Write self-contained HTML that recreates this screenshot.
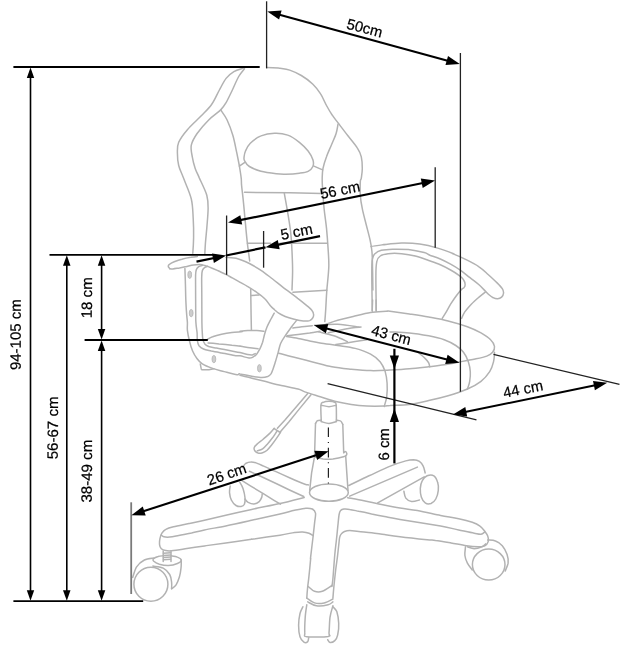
<!DOCTYPE html>
<html><head><meta charset="utf-8"><title>Chair dimensions</title>
<style>
html,body{margin:0;padding:0;background:#fff}
svg{display:block;will-change:transform}
text{font-family:"Liberation Sans",sans-serif;fill:#000;stroke:#000;stroke-width:.22;text-anchor:middle;text-rendering:geometricPrecision}
</style></head><body>
<svg width="620" height="662" viewBox="0 0 620 662">
<rect width="620" height="662" fill="#fff"/>
<g fill="none" stroke="#b2b2b2" stroke-width="1.5" stroke-linecap="round" stroke-linejoin="round">
<path d="M243.5 68.1C241.9 68.7 236.8 69.9 233.9 71.6C231 73.3 228.5 75.3 226.1 78.4C223.7 81.5 221.8 85.6 219.4 90C216.9 94.4 214.7 100.2 211.6 104.5C208.5 108.9 205 111.9 201 116.1C196.9 120.3 191.1 125.3 187.4 129.7C183.7 134 180.4 138.4 178.7 142.3C177 146.1 177.4 149 177.4 152.9C177.4 156.8 177.7 161.3 178.7 165.5C179.7 169.7 181.5 172.5 183.5 178.1C185.6 183.7 189.7 192.3 191.3 199C192.9 205.8 192.8 211.9 193.2 218.4C193.6 224.8 193.7 231.9 193.6 237.7C193.5 243.5 193 250.6 192.8 253.2"/>
<path d="M244.5 68.7C243.5 70 240.8 72.7 238.7 76.5C236.6 80.2 234 86.6 231.9 91C229.8 95.3 228 99.4 226.1 102.6C224.3 105.7 223.6 107 220.7 109.9C217.8 112.8 212.6 116.1 208.7 120C204.8 123.9 200 129.4 197.1 133.5C194.2 137.7 192.1 141.3 191.3 145.2C190.5 149 191.6 152.9 192.3 156.8C192.9 160.6 194 164.8 195.2 168.4C196.4 171.9 197.5 173.6 199.4 178.1C201.4 182.5 205.3 190.1 206.8 195.2C208.2 200.3 208.1 203.2 208.1 208.7C208.1 214.2 207.2 222.3 206.8 228.1C206.3 233.9 205.7 239.2 205.4 243.5C205.1 247.9 204.9 252.4 204.8 254.2"/>
<path d="M220.7 109.9C221.8 111.6 225.1 115.7 227.1 120C229.1 124.3 231.3 130 232.9 135.5C234.5 141 235.7 147.9 236.8 152.9C237.8 157.9 238.5 161.3 239.3 165.5C240 169.7 240.8 174.7 241.2 178.1C241.6 181.4 241.2 181.3 241.6 185.5C242 189.6 242.9 196.5 243.5 202.9C244.2 209.4 244.8 217.4 245.5 224.2C246.1 231 246.7 237.4 247.4 243.5C248.1 249.7 249.4 258.1 249.7 261"/>
<path d="M244.5 160.6C243.6 159 244 158.4 244.1 156.8C244.3 155.2 244.5 153.2 245.5 151C246.5 148.7 247.7 145.7 250.3 143.2C252.9 140.7 256.9 137.5 261 135.9C265 134.2 270.1 133.3 274.5 133.2C279 133 283.6 133.6 287.7 135.1C291.9 136.6 296 139.6 299.4 142.3C302.7 144.9 305.8 148.1 308.1 151C310.3 153.9 312.1 157.1 312.9 159.7C313.7 162.3 313.7 164.5 312.9 166.5C312.1 168.4 310.3 170.2 308.1 171.3C305.8 172.4 303.1 172.7 299.4 173.2C295.6 173.7 289.6 174.1 285.8 174.2C282 174.3 280.6 174.3 276.5 173.8C272.3 173.3 265.5 172.5 261 171.3C256.5 170.1 252.1 168.2 249.4 166.5C246.6 164.7 245.4 162.3 244.5 160.6Z"/>
<path d="M239.3 166.1L244.5 162.6"/>
<path d="M313.9 166.1L322.6 169.9"/>
<path d="M266.8 67.4C268.7 67.5 276.2 68 278.4 68.1C280.6 68.3 278.1 68 280 68.3C281.9 68.6 286.1 68.9 289.7 70.1C293.2 71.3 297.4 73.1 301.3 75.5C305.2 77.8 309.7 81.1 312.9 84.2C316.1 87.3 318.4 90.3 320.6 93.9C322.9 97.4 324.5 101.9 326.5 105.5C328.4 109 330.3 112.3 332.3 115.2C334.2 118.1 335.5 119.5 338.1 122.9C340.6 126.3 344.5 131.3 347.7 135.5C351 139.7 355.2 144.5 357.4 148.1C359.7 151.6 360.5 153.4 361.3 156.8C362.1 160.2 362.3 164.8 362.3 168.4C362.3 171.9 361.6 175.9 361.3 178.1C361 180.3 360.5 178.8 360.3 181.6C360.2 184.5 360 190.6 360.3 195.2C360.6 199.7 361.3 203.9 362.3 208.7C363.2 213.5 364.8 219 366.1 224.2C367.4 229.4 369 235.2 370 239.7C371 244.2 371.5 246.8 371.9 251.3C372.4 255.8 372.4 260.3 372.5 266.8C372.7 273.2 372.8 286.1 372.9 290"/>
<path d="M338.1 123.9C337.7 125.5 337.3 130 336.1 133.5C335 137.1 332.9 141.3 331.3 145.2C329.7 149 327.8 152.9 326.5 156.8C325.1 160.6 323.7 164.8 323 168.4C322.3 171.9 322.3 174.6 322.2 178.1C322.1 181.6 322.3 184.2 322.6 189.4C322.9 194.5 323.5 202.3 324.1 208.7C324.8 215.2 325.8 221.6 326.5 228.1C327.1 234.5 327.6 241 328 247.4C328.4 253.9 329 259.6 328.8 266.8C328.6 274 327.3 283.8 326.8 290.6C326.3 297.5 326.1 302.9 325.8 308.1C325.5 313.2 325 319.4 324.8 321.6"/>
<path d="M244.5 192.3L290 192.8L321.6 193.6"/>
<path d="M247.4 243.2L270.6 243.2"/>
<path d="M280 243.2L327.4 243.2"/>
<path d="M284.3 193.2C284.8 196.5 286.7 206.1 287.7 212.6C288.8 219 289.9 225.5 290.6 231.9C291.4 238.4 291.7 244.8 292 251.3C292.3 257.7 292.6 264.2 292.6 270.6C292.6 277.1 292.1 286.8 292 290"/>
<path d="M169.7 268.6C169.5 268.3 168.6 267.4 168.4 266.9C168.2 266.4 168.2 266.1 168.4 265.6C168.6 265.2 168.7 264.7 169.7 264.1C170.6 263.5 172.2 262.6 174.2 261.8C176.2 261 179.1 259.9 181.9 259.2C184.7 258.4 188.4 257.7 191 257.3C193.5 256.8 196.3 256.5 197.4 256.4"/>
<path d="M226.1 257.4C228.1 257.6 233.9 257.7 237.7 258.7C241.6 259.7 245.5 261.6 249.4 263.5C253.2 265.5 257.1 267.7 261 270.3C264.8 272.9 268.4 275.8 272.6 279C276.8 282.3 281.9 286.5 286.1 289.7C290.3 292.9 294.2 295.6 297.7 298.4C301.3 301.1 305.1 304.2 307.4 306.1C309.7 308.1 310.6 308.7 311.6 310C312.6 311.3 313.3 312.6 313.5 313.9C313.8 315.2 313.5 316.6 312.9 317.7C312.3 318.9 311.3 320 309.7 320.6C308.1 321.1 305.8 321.2 303.2 321C300.6 320.8 297.2 320 294.2 319.3C291.2 318.5 287.7 317.5 285.2 316.5C282.6 315.4 280.4 314.3 278.7 313.2C277 312.2 276.2 311.2 274.8 310C273.5 308.8 272.3 308 270.6 306.1C269 304.3 267.1 301 264.8 298.8C262.6 296.5 260 294.6 257.1 292.6C254.2 290.5 250.3 288.1 247.4 286.4C244.5 284.6 242.2 283.5 239.7 282.1C237.2 280.7 234.6 279.2 232.3 277.9C229.9 276.6 228.2 275.6 225.8 274.4C223.4 273.2 220.4 271.9 218.1 270.8C215.7 269.7 213.8 268.8 211.6 268C209.5 267.1 207.1 266.2 205.2 265.6C203.2 265.1 201.9 264.7 200 264.6C198.1 264.5 195.9 264.7 193.5 265C191.2 265.3 188.2 266.2 185.8 266.7C183.4 267.2 181.5 267.6 179.4 268C177.2 268.3 174.5 268.8 172.9 268.9C171.3 269 170.2 268.7 169.7 268.6"/>
<path d="M184.9 268.5C185 271 185.3 278.6 185.4 283.7C185.6 288.8 185.6 294.5 185.8 299.2C186 303.9 186.2 308.2 186.5 312.1C186.7 316 187.2 319.4 187.4 322.4C187.5 325.5 187.1 327.3 187.4 330.3C187.8 333.4 188.5 337.2 189.4 340.6C190.2 344.1 191.3 348 192.6 351C193.9 354 195.5 356.6 197.1 358.7C198.7 360.9 199.7 362.3 202.3 363.9C204.8 365.5 208.9 367.1 212.6 368.4C216.2 369.7 220.1 370.5 224.2 371.6C228.3 372.7 234.5 374.5 237.1 374.8C239.7 375.2 237.4 373.6 240 373.9C242.6 374.1 249.2 375.9 252.9 376.5C256.6 377 259.5 377.4 261.9 377.4C264.4 377.4 266.2 377 267.7 376.5C269.2 375.9 270.1 375.1 271 373.9C271.8 372.7 272.2 371.4 272.9 369.4C273.7 367.3 274.6 364.4 275.5 361.6C276.3 358.8 277.2 355.6 278.1 352.6C278.9 349.6 279.5 346.3 280.6 343.5C281.8 340.8 283.3 338.6 285.2 335.8C287 333 289.7 329.4 291.6 326.8C293.5 324.2 295.9 321.2 296.8 320.1"/>
<path d="M202.6 265.4C201.9 265.6 199.7 266 198.7 266.7C197.7 267.4 196.9 268.2 196.4 269.5C195.9 270.8 195.7 271.2 195.6 274.7C195.5 278.1 195.6 284.4 195.6 290.2C195.6 296 195.7 304.1 195.7 309.5C195.8 314.9 195.6 318.5 195.9 322.4C196.1 326.3 196.8 329.9 197.1 332.9C197.3 335.9 197 338.5 197.4 340.6C197.7 342.8 198 344.4 199 345.8C200.1 347.2 201.5 348.2 203.5 349C205.6 349.9 208.3 350.3 211.3 351C214.3 351.6 217.7 352.2 221.6 352.9C225.5 353.7 231.5 355 234.5 355.5C237.6 356 237.6 355.4 240 355.8C242.4 356.2 246.9 357.8 249 358C251.2 358.2 251.6 357.8 252.9 357.1C254.2 356.4 255.6 355.3 256.8 353.9C258 352.5 259 350.6 260 348.7C261 346.8 261.8 344.6 262.6 342.3C263.3 339.9 263.8 337.1 264.5 334.5C265.3 331.9 266 329.4 267.1 326.8C268.2 324.2 269.8 321.3 271 319C272.2 316.8 273.7 314.2 274.2 313.2"/>
<path d="M207.7 266.3C207.2 266.5 205.4 266.8 204.5 267.6C203.6 268.3 202.8 269.2 202.3 270.8C201.8 272.4 201.8 273 201.7 277.3C201.6 281.6 201.8 289.1 201.8 296.6C201.8 304.1 201.9 316.4 201.9 322.4C202 328.5 202.1 330.1 202.3 332.9C202.4 335.7 202.5 337.5 202.9 339.4C203.3 341.2 203.9 342.7 204.8 343.9C205.8 345.1 206.8 345.7 208.7 346.5C210.6 347.2 213.2 347.5 216.5 348.1C219.7 348.8 224.1 349.6 228.1 350.3C232 351.1 236.7 351.9 240 352.6C243.3 353.3 245.7 354.1 247.7 354.5C249.8 354.9 251 355.1 252.3 354.9C253.5 354.8 254.7 353.8 255.2 353.6"/>
<path d="M200.3 363.9C200.4 364.2 201.2 369.4 201.6 369.7C202 370 208.1 369.7 208.7 369.7C209.3 369.6 213.6 368.8 213.9 368.8"/>
<path d="M207.4 339.4C208.3 338.9 210.2 337.6 212.6 336.8C214.9 335.9 218.4 334.9 221.6 334.2C224.8 333.5 228.5 332.9 231.9 332.5C235.4 332.1 240.9 331.8 242.3 331.6C243.6 331.4 239.1 331.5 240 331.3C240.9 331.1 244.9 330.8 247.7 330.6C250.5 330.5 254.1 330.3 256.8 330.4C259.5 330.5 262.7 331.1 263.9 331.3"/>
<path d="M208.1 343C209.9 343.1 215.1 343.5 219 343.9C223 344.2 228.1 344.7 231.9 345.2C235.8 345.6 240.9 346.3 242.3 346.5C243.6 346.6 239.1 346 240 346.1C240.9 346.3 244.7 347 247.7 347.4C250.8 347.8 256.3 348.5 258.1 348.7"/>
<path d="M250.7 288.7L251.1 315.2L251.4 330"/>
<path d="M251.3 295.5L259 294.9"/>
<path d="M292.9 292.2L326.8 290.3"/>
<path d="M240 375.2C242.2 375.7 248.6 377.3 252.9 378.4C257.2 379.5 261.1 380.4 265.8 381.6C270.5 382.8 275.9 384.3 281.3 385.5C286.7 386.7 294.1 387.9 298.1 389C302 390 301.1 390.6 304.8 391.9C308.5 393.2 315.2 395.2 320.3 396.8C325.5 398.4 330.6 400.3 335.8 401.6C341 402.9 346.1 403.8 351.3 404.5C356.5 405.3 361.3 405.8 366.8 406.1C372.3 406.3 380.3 406.2 384.2 406.1C388.1 406 385.8 405.7 390 405.5C394.2 405.2 402.9 405.3 409.4 404.5C415.8 403.7 422.3 402.1 428.7 400.6C435.2 399.2 441.6 397.7 448.1 395.8C454.5 393.9 461.9 391.5 467.4 389C472.9 386.6 477.3 384.2 481 381.3C484.7 378.4 487.6 374.8 489.7 371.6C491.8 368.4 492.7 365.2 493.5 361.9C494.4 358.7 494.4 353.9 494.5 352.3"/>
<path d="M326.1 324.2C328.1 323.5 333.2 321.6 337.7 320.3C342.3 319 347.7 317.7 353.2 316.5C358.7 315.2 365.2 313.5 370.6 312.6C376.1 311.7 382.9 311.5 386.1 311.2C389.4 311 386.1 310.8 390 311.2C393.9 311.7 402.9 313 409.4 313.9C415.8 314.9 422.3 315.9 428.7 317C435.2 318.2 441.6 319.3 448.1 320.9C454.5 322.5 461.9 324.7 467.4 326.7C472.9 328.7 477.1 330.7 481 332.9C484.8 335.1 488.4 337.4 490.6 339.7C492.9 341.9 494.2 344.4 494.5 346.5C494.8 348.5 493.9 350.6 492.6 352.3C491.3 353.9 489.7 355 486.8 356.1C483.9 357.3 479.7 358.1 475.2 359C470.6 360 464.8 361 459.7 361.9C454.5 362.9 449.4 364 444.2 364.8C439 365.6 434.5 366.1 428.7 366.8C422.9 367.4 415.8 368.2 409.4 368.7C402.9 369.3 396.5 369.7 390 370.1C383.5 370.4 377.1 370.8 370.6 370.6C364.2 370.5 357.7 369.9 351.3 369.3C344.8 368.6 338.4 368 331.9 366.8C325.5 365.5 319 363.5 312.6 361.9C306.1 360.3 298.9 358.5 293.2 357.1C287.6 355.6 281.1 353.9 278.7 353.2"/>
<path d="M372.6 300L372.2 310.6"/>
<path d="M376.1 300L376.1 310.6"/>
<path d="M287.1 335.8C288.9 335.6 294.3 335 298.1 334.5C301.8 334 306 333.5 309.7 333C313.3 332.4 318.3 331.6 320 331.3"/>
<path d="M286.5 336.5C288.4 336.8 294.2 337.6 298.1 338.4C301.9 339.1 306 340.2 309.7 341C313.3 341.7 315.3 342.2 320 342.9C324.7 343.7 331.9 344.6 337.7 345.5C343.6 346.4 349.7 346.9 355.2 348.4C360.6 349.8 366.5 351.9 370.6 354.2C374.8 356.5 377.9 359 380.3 361.9C382.7 364.8 384 368.1 385.2 371.6C386.3 375.2 386.8 379 387.1 383.2C387.4 387.4 387.2 392.9 386.7 396.8C386.2 400.6 384.6 404.8 384.2 406.5"/>
<path d="M292.9 328.1C294.4 327.8 298.7 327.2 301.9 326.8C305.2 326.4 310.5 325.9 312.3 325.7"/>
<path d="M314.5 325.2C318.4 325 330.3 323.9 337.7 324.2C345.2 324.5 355.5 326.6 359 327.1"/>
<path d="M318.4 331.9C321 332.6 329 334.2 333.9 335.8C338.7 337.4 345.2 340.6 347.4 341.6"/>
<path d="M335.8 344.5C339 344 350 342.4 355.2 341.6C360.3 340.8 364.8 340 366.8 339.7"/>
<path d="M328.1 332.9C331.9 332.1 345.8 329 351.3 328.1C356.8 327.1 359.4 327.3 361 327.1"/>
<path d="M390 331.9C393.2 332.1 402.9 332.3 409.4 332.9C415.8 333.5 422.9 334.7 428.7 335.8C434.5 336.9 439.7 338.1 444.2 339.7C448.7 341.3 452.6 343.4 455.8 345.5C459 347.6 461.5 349.5 463.5 352.3C465.6 355 467.3 358.7 468.4 361.9C469.5 365.2 470.1 368.4 470.3 371.6C470.5 374.8 470.2 378.4 469.7 381.3C469.3 384.2 467.8 387.7 467.4 389"/>
<path d="M419 353.2C420 354 423.2 356.5 424.8 358.1C426.5 359.7 427.9 361.5 428.7 362.9C429.5 364.4 429.5 366.1 429.7 366.8"/>
<path d="M371 246.5C373.2 246.1 382.4 244.8 384.5 244.5C386.6 244.2 380.7 244.9 383.5 244.7C386.4 244.4 395.6 243.2 401.6 243.1C407.6 243 413.7 243.2 419.7 244C425.7 244.8 432.1 246.4 437.7 248.1C443.4 249.7 451 252.7 453.5 253.7C456.1 254.7 451.1 252.9 453.2 253.9C455.3 254.9 461.8 257.5 466.1 259.7C470.4 261.8 475.4 264.3 479 266.8C482.7 269.2 485.1 271.8 488.1 274.5C491.1 277.2 494.7 280.5 497.1 282.9C499.5 285.3 501.2 287 502.3 288.7C503.3 290.4 503.7 291.8 503.5 293.2C503.4 294.6 502.6 296.2 501.6 297.1C500.6 298 499.1 298.7 497.7 298.8C496.3 298.9 494.7 298.5 493.2 297.7C491.7 297 490 295.6 488.7 294.5C487.4 293.4 487.1 292.9 485.5 291.3C483.9 289.7 481.6 287.1 479 284.8C476.5 282.6 473 280.1 470 277.7C467 275.4 464.2 272.9 461 270.6C457.7 268.4 454.1 266.1 450.6 264.2C447.2 262.3 443.8 260.5 440.3 259C436.9 257.5 432.7 256.2 430 255.2C427.3 254.1 427.8 253.5 424.2 252.6C420.6 251.7 413.7 250.2 408.4 249.6C403.1 249.1 397.1 249.1 392.6 249.2C388.1 249.3 384.2 249.6 381.3 250.3C378.4 251.1 376.5 252.2 375 253.7C373.5 255.2 372.8 255.8 372.3 259.4C371.7 262.9 371.8 266.5 371.8 275.2C371.8 283.8 372.2 305.3 372.3 311.3"/>
<path d="M376.3 311.3C376.2 305.3 375.8 283.4 375.9 275.2C375.9 266.9 376.1 264.8 376.8 261.6C377.5 258.4 378.3 257.3 380.2 256C382 254.7 384.5 254.1 388.1 253.7C391.6 253.3 397.1 253.3 401.6 253.7C406.1 254.1 410.6 254.8 415.2 256C419.7 257.1 424.5 259 428.7 260.5C432.9 262 436.7 263.3 440.3 264.8C444 266.4 447.4 268.2 450.6 270C453.9 271.8 457.5 274.2 459.7 275.8C461.8 277.4 462.6 278.3 463.5 279.7C464.5 281.1 465 282.9 465.1 284.2C465.2 285.5 464.9 286.5 464.2 287.4C463.5 288.4 462.4 288.5 461 290C459.6 291.5 457.5 294.1 455.8 296.5C454.1 298.8 452.4 301.4 450.6 304.2C448.9 307 446.9 310.9 445.5 313.2C444.1 315.6 442.8 317.5 442.3 318.4"/>
<path d="M485.5 291.9C484.4 292.8 481.4 295.1 479 297.1C476.7 299.1 473.7 301.7 471.3 304.2C468.9 306.7 466.5 309.6 464.8 311.9C463.2 314.3 462.2 317.3 461.6 318.4"/>
<path d="M307.7 393.4L296.8 406.3L285.2 419.8L277.4 428.2"/>
<path d="M311 394.7L299.4 408.9L289 421.8L280.6 431.5"/>
<path d="M274.2 428.2C273.4 429.1 271.5 431.6 269.7 433.4C267.8 435.2 265.4 437.4 263.2 439.2C261.1 441 258.3 443 256.8 444.4C255.3 445.8 254.5 446.5 254.2 447.6C253.9 448.7 254.2 449.9 254.8 450.8C255.5 451.7 256.8 452.8 258.1 453.1C259.4 453.5 261.1 453.2 262.6 452.7C264.1 452.2 265.6 451.5 267.1 450.2C268.6 448.9 270 447 271.6 445C273.2 443 275.3 440.1 276.8 437.9C278.3 435.8 280 433.1 280.6 432.1"/>
<path d="M274.2 428.6L280.3 432.5"/>
<path d="M257.4 450.8C258.3 450.5 260.9 450.1 262.6 448.9C264.3 447.7 266 445.6 267.7 443.7C269.5 441.8 271.4 439.3 272.9 437.3C274.4 435.2 276.1 432.4 276.8 431.5"/>
<path d="M321.3 421.6C321.2 418.9 320.6 408.4 320.9 405.2C321.2 401.9 321.9 402.9 323.2 402.3C324.6 401.6 327.1 401.3 329 401.3C331 401.3 333.6 401.6 334.8 402.3C336 402.9 335.9 401.9 336.2 405.2C336.5 408.4 336.4 418.9 336.4 421.6"/>
<path d="M321.3 405.2C322.6 405.4 326.5 406.7 329 406.7C331.5 406.7 335 405.4 336.2 405.2"/>
<path d="M321.3 421.6C322.6 421.9 326.5 423.5 329 423.5C331.5 423.5 335.2 421.9 336.4 421.6"/>
<path d="M321.3 420.1C320.6 420.2 318.4 420.1 317.4 420.6C316.5 421.2 315.8 423.1 315.5 423.5"/>
<path d="M315.5 423.5L314.5 457"/>
<path d="M336.4 420.1C337.1 420.2 339.6 420.3 340.6 421C341.7 421.8 342.4 423.9 342.8 424.5"/>
<path d="M342.8 424.5L343.7 452.6"/>
<path d="M314.7 457C316.1 457.4 320.2 458.6 323.2 459C326.3 459.3 329.5 459.3 332.9 459C336.3 458.6 341.3 457.5 343.5 456.8C345.8 456.2 345.9 455.8 346.5 455.1C347 454.4 346.9 453.4 346.6 452.8C346.4 452.2 345.6 451.6 345.1 451.6C344.6 451.6 344 452.6 343.7 452.8"/>
<path d="M314.3 457.8L311.6 472.9L309.7 490.3"/>
<path d="M345.7 456.1L346.8 472.9L348 490.3"/>
<path d="M309.5 492.6a19.4 8.7 0 1 0 38.8 0a19.4 8.7 0 1 0 -38.8 0"/>
<path d="M251.6 539.3C247.3 539.9 233.7 541.8 225.8 542.9C218 544 211.3 544.9 204.5 545.9C197.7 546.8 190.3 547.9 185.2 548.7C180 549.5 176.8 550.3 173.5 550.6C170.3 551 167.8 551 165.8 550.6C163.8 550.3 162.3 549.7 161.3 548.7C160.3 547.7 159.8 546.6 159.6 544.8C159.4 543.1 159.6 540.3 160 538.4C160.4 536.5 161 534.7 161.9 533.2C162.9 531.7 163.9 530.4 165.8 529.4C167.7 528.3 169.7 527.7 173.5 526.8C177.4 525.8 183.9 524.6 189 523.5C194.2 522.5 198.4 521.7 204.5 520.3C210.6 518.9 218 517 225.8 515.2C233.7 513.3 242.6 511.3 251.6 509.4C260.6 507.4 271.2 505.5 280 503.5C288.8 501.6 300.2 498.4 304.2 497.4"/>
<path d="M251.6 539.3C256.3 538.6 272.8 536.3 280 535.2C287.2 534 290.8 533 294.5 532.4C298.3 531.9 300.2 531.8 302.6 531.9C305 532.1 307.3 532.6 309 533.2C310.8 533.8 312.4 535.2 313.1 535.6"/>
<path d="M161.3 535.2C161.7 535.4 162.5 536.5 163.9 536.8C165.3 537.2 167.2 537.3 169.7 537.1C172.2 536.9 175.1 536.2 178.7 535.5C182.4 534.9 187.3 533.9 191.6 533C195.9 532 198.8 531.2 204.5 530C210.2 528.8 218 527.5 225.8 525.9C233.7 524.3 242.6 522.3 251.6 520.3C260.6 518.3 272.8 515.5 280 513.9C287.2 512.2 290.2 511.3 294.5 510.3C298.8 509.4 302.8 508.4 305.8 508.2C308.8 508 310.6 508.2 312.3 509C313.9 509.8 315.1 510.9 315.5 513.1C315.9 515.2 315.1 518 314.7 521.9C314.3 525.8 313.7 530.5 313.1 536.5C312.4 542.4 311 553.6 310.6 557.4C310.2 561.2 311 555.8 310.6 559.4C310.3 562.9 309.2 574.2 308.7 578.7C308.2 583.2 308.1 583.2 307.7 586.5C307.4 589.7 306.9 596.1 306.8 598.1"/>
<path d="M163.2 550.9L163.2 561.6"/>
<path d="M171 550.9L171 561.6"/>
<path d="M163.5 553.2L170.7 552.7"/>
<path d="M163.5 555.4L170.7 554.9"/>
<path d="M163.5 557.6L170.7 557.1"/>
<path d="M163.5 559.8L170.7 559.3"/>
<path d="M163.2 555.8C162.4 555.9 159.7 556 158.1 556.5C156.5 556.9 154.3 558 153.5 558.8C152.8 559.5 152.6 560.1 153.5 561C154.5 561.9 156.9 563.4 159.4 564.2C161.8 564.9 165.4 565.6 168.4 565.5C171.4 565.4 175.3 564.4 177.4 563.5C179.6 562.7 181.3 561.4 181.3 560.3C181.3 559.2 179.1 557.8 177.4 557.1C175.7 556.3 172 556 171 555.8"/>
<path d="M181.3 560.3C181.2 561.6 181.4 565.3 181 568.1C180.7 570.9 180.2 574.3 179.4 577.1C178.5 579.9 177.4 582.9 176.1 584.8C174.8 586.8 172.4 588.1 171.6 588.7"/>
<path d="M154 558.1C152.4 558.4 147.3 558.5 144.4 560C141.5 561.5 138.5 563.9 136.6 566.8C134.7 569.7 133.4 575.6 132.7 577.4"/>
<path d="M152.9 566.1C154.6 566.5 160.4 566.7 163.2 568.1C166 569.5 168.3 572.2 169.7 574.5C171.1 576.9 171.3 579.9 171.6 582.3C171.9 584.6 171.6 587.6 171.6 588.7"/>
<path d="M133.9 584.2a17 17 0 1 0 34 0a17 17 0 1 0 -34 0"/>
<path d="M242.4 467.4C242.8 467 244.7 464.2 245.6 463.5C246.6 462.9 249.6 461.9 250.8 461.9C252 461.8 254.5 462.4 256 462.9C257.5 463.4 261.3 465.1 263.7 466.1C266.1 467.2 273.6 470.6 276.6 471.9C279.6 473.3 286.2 476.3 289.5 477.7C292.8 479.2 302.8 483.4 305 484.2C307.2 485 308.1 484.8 308.5 484.9"/>
<path d="M249.5 471.3L261.1 476.5L276.6 483.8L289.5 490L303.7 496.5"/>
<path d="M240.5 479.7L250.8 486.1L263.7 493.9L274 500.3L280.5 504.2"/>
<path d="M230.2 486.1C230.1 487.2 229.3 490.2 229.5 492.6C229.7 494.9 230.4 498.2 231.5 500.3C232.5 502.5 234.4 504.5 236 505.5C237.6 506.5 239.7 506.7 241.1 506.5C242.5 506.3 243.7 505.7 244.4 504.2C245 502.7 245.2 500.3 245 497.7C244.8 495.2 243.9 491.3 243.1 488.7C242.2 486.1 240.4 483.3 239.8 482.3"/>
<path d="M245 499C245.5 499.6 246.7 501.4 248.2 502.3C249.7 503.1 252.2 504 254 503.9C255.9 503.8 257.9 502.8 259.2 501.6C260.5 500.5 261.3 498.4 261.8 497.1C262.3 495.8 262.1 494.4 262.2 493.9"/>
<path d="M348.7 485.5C352.1 483.9 362.1 479 369 475.8C376 472.6 384.2 468.6 390.3 466.1C396.5 463.6 401.9 462 405.8 460.9C409.7 459.8 411.3 459.7 413.5 459.7C415.8 459.8 417.7 460.2 419.4 461.3C421 462.4 422.3 464.2 423.2 466.1C424.2 468.1 424.8 471.8 425.2 472.9"/>
<path d="M349.7 496.1L417.4 467.1"/>
<path d="M377.7 502.9L424.2 476.8"/>
<path d="M420.3 488.4C420.5 485.6 421.1 482.7 422.3 480.6C423.4 478.5 425.2 476.6 427.1 475.8C429 475 432.1 474.7 433.9 475.8C435.6 476.9 437 480.2 437.7 482.6C438.5 485 438.6 487.6 438.3 490.3C438 493.1 437 496.8 435.8 499C434.6 501.2 432.7 502.8 431 503.5C429.2 504.1 426.8 504 425.2 502.9C423.5 501.8 422.1 499.5 421.3 497.1C420.5 494.7 420.2 491.1 420.3 488.4Z"/>
<path d="M403.9 491.3C404.2 492.4 404.5 496.4 405.8 498.1C407.1 499.8 409.4 501.2 411.6 501.5C413.9 501.9 418.1 500.3 419.4 500"/>
<path d="M347.7 497.7C349.6 498.1 353.9 498.7 358.7 499.7C363.5 500.6 369.9 502.2 376.8 503.5C383.7 504.9 393.2 506.9 400 508.1C406.8 509.2 410.6 509.4 417.4 510.6C424.2 511.9 433.8 514.1 440.6 515.5C447.5 516.8 453.4 517.6 458.7 518.7C464 519.8 468.7 521 472.3 522.2C475.8 523.4 477.9 524.5 480 526.1C482.1 527.6 483.5 529.6 484.8 531.3C486.1 533 487.2 534.4 487.7 536.1C488.3 537.9 488.6 540.3 488.1 541.9C487.6 543.5 486.5 545 484.8 545.8C483.2 546.6 481.1 546.8 478.1 546.8C475 546.8 471 546.5 466.5 545.8C461.9 545.2 456.1 543.8 451 542.9C445.8 542 439.5 540.9 435.5 540.4C431.5 539.8 433 540.3 427.1 539.7C421.2 539.1 407.1 537.6 400 536.7C392.9 535.8 389.2 535.2 384.5 534.5C379.8 533.9 375.9 533.3 371.6 532.8C367.3 532.3 362.4 531.9 358.7 531.5C355.1 531.2 352 530.6 349.7 530.6C347.3 530.6 345.9 531 344.5 531.5C343.1 532.1 342.1 532.8 341.3 533.9C340.5 534.9 340 535.8 339.6 537.7C339.2 539.7 339.1 542.3 338.7 545.5C338.3 548.7 337.9 553.2 337.4 557.1C336.9 561 336.4 564.1 335.8 569C335.2 573.9 334.4 581.6 333.9 586.5C333.4 591.3 333.1 596.1 332.9 598.1"/>
<path d="M331.9 586.5C332.1 585.2 332.4 584 332.9 578.7C333.4 573.4 334.2 561.1 334.8 554.5C335.4 547.9 336 544.2 336.5 539C337.1 533.9 337.6 527.6 338.1 523.5C338.5 519.5 338.7 516.7 339.1 514.5C339.5 512.4 339.8 511.5 340.6 510.6C341.4 509.7 342.4 509.3 343.9 509.1C345.4 508.9 347.2 509 349.7 509.4C352.2 509.7 355.1 510.5 358.7 511.3C362.4 512 367.3 513 371.6 513.9C375.9 514.7 379.8 515.5 384.5 516.5C389.2 517.4 390.6 517.8 400 519.4C409.4 521 430.9 524.4 440.6 526.1C450.4 527.9 453.1 528.8 458.7 529.9C464.3 531.1 470.5 532.5 474.2 533.2C477.9 533.9 479.2 534.4 481 534.2C482.7 534 484.2 532.3 484.8 531.9"/>
<path d="M465.5 546.8C465.4 548.2 464.6 552.7 464.9 555.5C465.2 558.2 466.2 560.8 467.4 563.2C468.6 565.6 471.5 568.9 472.3 570"/>
<path d="M487.7 540C489 540.2 493.1 540 495.5 541C497.9 541.9 500.3 543.5 502.3 545.8C504.2 548.1 506.1 551.6 507.1 554.5C508.1 557.4 508.4 560.5 508.1 563.2C507.7 566 505.6 569.7 505.2 571"/>
<path d="M467.4 546.8C468.5 547.1 471.8 548.7 474.2 548.7C476.6 548.7 480 547.6 481.9 546.8C483.9 546 485.2 544.4 485.8 543.9"/>
<path d="M472.4 564.6a16.3 15.5 0 1 0 32.6 0a16.3 15.5 0 1 0 -32.6 0"/>
<path d="M308.3 586.5C309.4 587.3 312.2 590.5 314.5 591.3C316.8 592.1 319.4 592.3 322.3 591.3C325.2 590.3 330.3 586.5 331.9 585.5"/>
<path d="M306.8 598.1C308.1 598.9 311.6 602.1 314.5 602.9C317.4 603.7 321.1 603.5 324.2 602.9C327.3 602.3 331.5 599.7 332.9 599"/>
<path d="M307.7 601.9C309.2 602.6 313.1 605.3 316.5 605.8C319.8 606.3 325.3 605.5 328.1 604.8C330.8 604.2 332.1 602.4 332.9 601.9"/>
<path d="M306.8 604.8C306.5 606.9 305.5 612.7 305.2 617.4C304.9 622.1 304.6 629.7 304.8 632.9C305.1 636.1 302.9 636.2 306.8 636.8C310.6 637.4 324.4 637 328.1 636.4C331.8 635.7 328.7 636.1 329 632.9C329.4 629.7 329.4 621.9 330 617.4C330.6 612.9 332.4 607.7 332.9 605.8"/>
<path d="M302.9 606.8C302.4 607.9 300.7 610.5 300 613.5C299.3 616.6 298.6 621.3 298.6 625.2C298.6 629 299.1 633.9 300 636.8C300.9 639.6 302.6 641.4 303.9 642.2C305.2 643 306.9 642.4 307.7 641.6C308.5 640.9 308.5 638.4 308.7 637.7"/>
<path d="M332.9 606.8C333.5 607.6 335.8 608.9 336.8 611.6C337.7 614.4 338.5 619.4 338.7 623.2C338.9 627.1 338.4 631.9 337.7 634.8C337.1 637.7 336.1 639.4 334.8 640.6C333.5 641.9 331.2 642.7 330 642.6C328.8 642.4 328.1 640.2 327.7 639.7"/>
</g>
<path d="M131.2 502.3V594" stroke="#7a7a7a" stroke-width="1.8" fill="none"/>
<path d="M328.4 427.4V484" stroke="#222" stroke-width="1.2" stroke-dasharray="9.7 4.8 1 4.8" fill="none"/>
<ellipse cx="189.7" cy="274.7" rx="1.9" ry="3.7" fill="#cdcdcd" stroke="#b4b4b4" stroke-width="0.8" transform="rotate(0 189.7 274.7)"/>
<ellipse cx="191.2" cy="313.1" rx="1.9" ry="3.7" fill="#cdcdcd" stroke="#b4b4b4" stroke-width="0.8" transform="rotate(0 191.2 313.1)"/>
<ellipse cx="213.9" cy="359.1" rx="1.9" ry="3.7" fill="#cdcdcd" stroke="#b4b4b4" stroke-width="0.8" transform="rotate(0 213.9 359.1)"/>
<ellipse cx="259.4" cy="368.3" rx="1.9" ry="3.7" fill="#cdcdcd" stroke="#b4b4b4" stroke-width="0.8" transform="rotate(0 259.4 368.3)"/>
<g fill="none" stroke="#222" stroke-width="1.3">
<path d="M266.6 1.3L266.6 68.4"/>
<path d="M460.4 53L460.4 391.8"/>
<path d="M226.6 215.5L226.6 274.8"/>
<path d="M263.6 231L263.6 267.7"/>
<path d="M435.2 167.2L435.2 247.7"/>
<path d="M327.6 383.6L476.5 419.8"/>
<path d="M493.5 354.4L619.5 384.3"/>
</g>
<g fill="none" stroke="#000" stroke-width="2">
<path d="M13.4 67L259.7 67" stroke-width="1.8"/>
<path d="M13.4 601.2L143.2 601.2" stroke-width="1.8"/>
<path d="M49.5 254.8L214 254.8" stroke-width="1.8"/>
<path d="M84.6 340L207.8 340" stroke-width="1.8"/>
<path d="M30.5 71.5L30.5 596.7" stroke-width="1.6"/>
<path d="M66.8 259.3L66.8 596.7" stroke-width="1.6"/>
<path d="M101.6 259.3L101.6 335.5" stroke-width="1.6"/>
<path d="M101.6 344.5L101.6 596.7" stroke-width="1.6"/>
<path d="M273.1 13.1L454 62.4" stroke-width="2.1"/>
<path d="M233.9 221.4L429.1 181.8" stroke-width="2.1"/>
<path d="M196.5 261.6L220.3 256.7" stroke-width="2.1"/>
<path d="M226 255.5L265.5 247.3" stroke-width="2.2"/>
<path d="M271.4 246.1L320 236.1" stroke-width="2.1"/>
<path d="M319.8 326.8L453.7 361.2" stroke-width="2.1"/>
<path d="M394.4 348.8L394.4 463.4" stroke-width="2.2"/>
<path d="M458.9 413.3L601.3 384" stroke-width="2.1"/>
<path d="M137.1 513.3L322.9 453.1" stroke-width="2.1"/>
</g>
<g fill="#000">
<polygon points="30.5,67.5 34.2,78 26.8,78"/>
<polygon points="30.5,600.7 26.8,590.2 34.2,590.2"/>
<polygon points="66.8,255.3 70.5,265.8 63,265.8"/>
<polygon points="66.8,600.7 63,590.2 70.5,590.2"/>
<polygon points="101.6,255.3 105.3,265.8 97.8,265.8"/>
<polygon points="101.6,339.5 97.8,329 105.3,329"/>
<polygon points="101.6,340.5 105.3,351 97.8,351"/>
<polygon points="101.6,600.7 97.8,590.2 105.3,590.2"/>
<polygon points="267.3,11.5 281.6,10.5 279.1,19.6"/>
<polygon points="459.8,64 445.5,65 448,55.9"/>
<polygon points="228,222.6 240.3,215.3 242.2,224.6"/>
<polygon points="435,180.6 422.7,187.9 420.8,178.6"/>
<polygon points="226.2,255.5 213.9,262.9 212,253.6"/>
<polygon points="265.5,247.3 277.8,239.9 279.7,249.2"/>
<polygon points="314,325.3 328.3,324.1 325.9,333.3"/>
<polygon points="459.5,362.7 445.2,363.9 447.6,354.7"/>
<polygon points="394.4,369 389.8,355.5 399,355.5"/>
<polygon points="394.4,408.6 399,422.1 389.8,422.1"/>
<polygon points="453,414.5 465.3,407.1 467.2,416.4"/>
<polygon points="607.2,382.8 594.9,390.2 593,380.9"/>
<polygon points="131.4,515.2 142.8,506.5 145.7,515.6"/>
<polygon points="328.6,451.2 317.2,459.9 314.3,450.8"/>
</g>
<g>
<text transform="translate(363.3 33) rotate(14.6)" font-size="15" textLength="36.5" lengthAdjust="spacingAndGlyphs">50cm</text>
<text transform="translate(341 195.1) rotate(-11.5)" font-size="15" textLength="40.3" lengthAdjust="spacingAndGlyphs">56 cm</text>
<text transform="translate(297.5 236.8) rotate(-11.5)" font-size="15" textLength="32.3" lengthAdjust="spacingAndGlyphs">5 cm</text>
<text transform="translate(390 339.9) rotate(14.8)" font-size="15" textLength="40.3" lengthAdjust="spacingAndGlyphs">43 cm</text>
<text transform="translate(524 394) rotate(-11.3)" font-size="15" textLength="40.3" lengthAdjust="spacingAndGlyphs">44 cm</text>
<text transform="translate(228.4 479) rotate(-19)" font-size="15" textLength="40.3" lengthAdjust="spacingAndGlyphs">26 cm</text>
<text transform="translate(389 444.4) rotate(-89.9)" font-size="15" textLength="32.3" lengthAdjust="spacingAndGlyphs">6 cm</text>
<text transform="translate(91.9 297.8) rotate(-89.9)" font-size="15" textLength="41" lengthAdjust="spacingAndGlyphs">18 cm</text>
<text transform="translate(91.9 471.2) rotate(-89.9)" font-size="15" textLength="62.8" lengthAdjust="spacingAndGlyphs">38-49 cm</text>
<text transform="translate(57.9 427.9) rotate(-89.9)" font-size="15" textLength="62.8" lengthAdjust="spacingAndGlyphs">56-67 cm</text>
<text transform="translate(20.7 334.7) rotate(-89.9)" font-size="15" textLength="70.6" lengthAdjust="spacingAndGlyphs">94-105 cm</text>
</g>
</svg>
</body></html>
